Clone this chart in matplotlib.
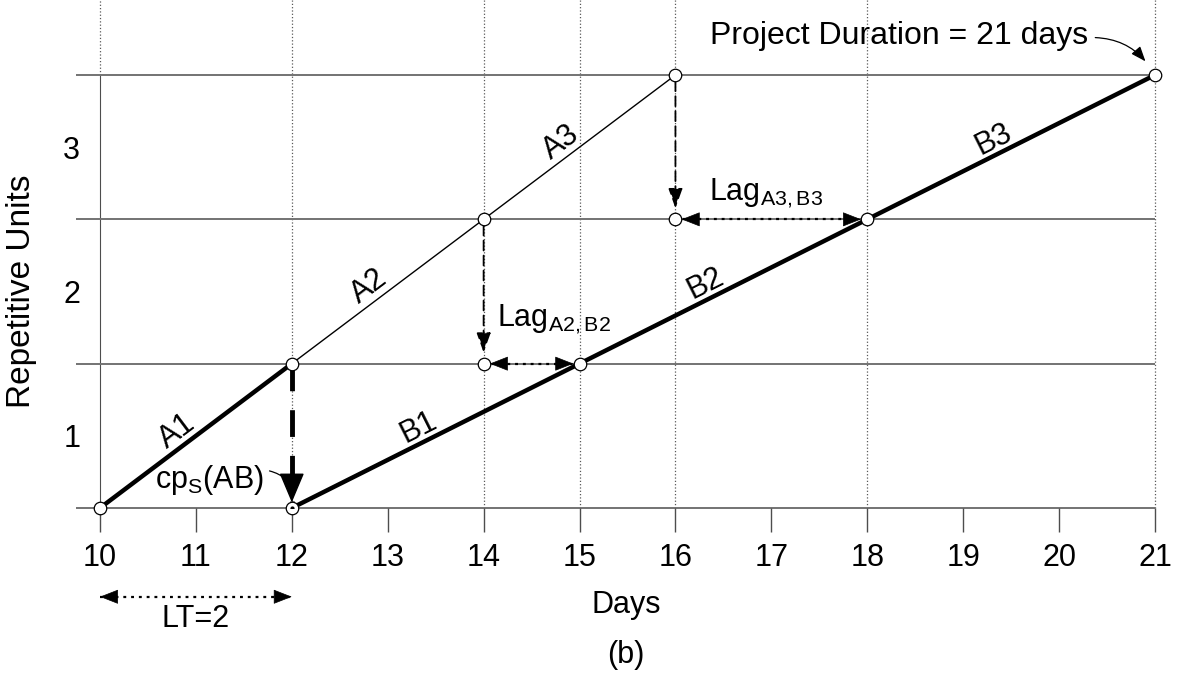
import numpy as np
import matplotlib
matplotlib.use('Agg')
import matplotlib.pyplot as plt

plt.rcParams['font.family'] = ['Liberation Sans', 'DejaVu Sans']
plt.rcParams['mathtext.fontset'] = 'custom'
plt.rcParams['mathtext.rm'] = 'Liberation Sans'
plt.rcParams['mathtext.it'] = 'Liberation Sans:italic'

days = np.arange(10, 22)
unit_levels = [0, 1, 2, 3]
unit_labels = ['1', '2', '3']

# activity A: one unit every 2 days
a_days = [10, 12, 14, 16]
a_units = [0, 1, 2, 3]
a_labels = ['A1', 'A2', 'A3']

# activity B: one unit every 3 days
b_days = [12, 15, 18, 21]
b_units = [0, 1, 2, 3]
b_labels = ['B1', 'B2', 'B3']

# lags between A finishing unit i+1 and B finishing unit i
lag_days = [14, 16]
lag_units = [1, 2]
lag_end_days = [15, 18]
lag_names = ['A2,B2', 'A3,B3']

lead_time = 2
project_duration = 21

fig = plt.figure(figsize=(11.79, 6.77), dpi=100)
ax = fig.add_axes([76 / 1179, 169 / 677, 1079 / 1179, 433 / 677])
ax.set_xlim(9.75, 21)
ax.set_ylim(0, 3)
for s in ax.spines.values():
    s.set_visible(False)

# grid: dotted lines only on milestone days, running up past the top unit line
top = 3.52
event_days = sorted(set(a_days + b_days + lag_days))
ax.vlines(event_days[1:], 0, top, colors='0.35', linestyles=':', lw=0.9, clip_on=False, zorder=1)
ax.vlines(event_days[0], 3, top, colors='0.35', linestyles=':', lw=0.9, clip_on=False, zorder=1)
ax.vlines(event_days[0], 0, 3, colors='0.3', lw=0.8, zorder=1)
ax.hlines(unit_levels, 9.75, 21, colors='0.45', lw=1.4, clip_on=False, zorder=1)

ax.set_xticks(days)
ax.tick_params(axis='x', length=17, width=1.0, color='0.3', pad=8, labelsize=22)
ax.set_yticks([u + 0.5 for u in unit_levels[:-1]], unit_labels)
ax.tick_params(axis='y', length=0, pad=-3, labelsize=22)

# activity lines
ax.plot(a_days[:2], a_units[:2], color='k', lw=3.2, solid_capstyle='butt', zorder=3)
ax.plot(a_days[1:], a_units[1:], color='k', lw=1.0, zorder=3)
ax.plot(b_days, b_units, color='k', lw=3.2, solid_capstyle='butt', zorder=3)

circ = dict(marker='o', ms=9, mfc='white', mec='k', mew=0.9, ls='none', zorder=6, clip_on=False)
ax.plot(a_days, a_units, **circ)
ax.plot(b_days, b_units, **circ)
ax.plot(lag_days, lag_units, **circ)
ax.plot(b_days[0], b_units[0], marker='.', ms=4, color='k', ls='none', zorder=7)


def label_segment(x0, y0, x1, y1, text):
    p0, p1 = ax.transData.transform([(x0, y0), (x1, y1)])
    d = p1 - p0
    ang = np.degrees(np.arctan2(d[1], d[0]))
    u = d / np.hypot(*d)
    n = np.array([-u[1], u[0]])
    off = (-12 * u + 15 * n) * 72 / fig.dpi
    ax.annotate(text, xy=((x0 + x1) / 2, (y0 + y1) / 2), xytext=off, textcoords='offset points',
                rotation=ang, rotation_mode='anchor', ha='center', va='center', fontsize=22)


def head(xy, sign, coords='data', shrink=4.5, length=12, half_width=4.7):
    # solid arrow head whose tip sits at xy (less shrink), pointing along +x (sign=1) or -x
    ax.annotate('', xy=xy, xycoords=coords, xytext=(-sign * (shrink + length), 0),
                textcoords='offset points', annotation_clip=False, zorder=5,
                arrowprops=dict(arrowstyle=f'-|>,head_length={length / 10},head_width={half_width / 10}',
                                mutation_scale=10, lw=0.5, color='k', shrinkA=0, shrinkB=shrink))


def dotted_span(x0, x1, y, transform, shrink):
    ax.plot([x0, x1], [y, y], transform=transform, color='k', lw=1.6,
            ls=(0, (1.3, 2.2)), clip_on=False, zorder=4)
    coords = 'data' if transform is ax.transData else ('data', 'axes fraction')
    head((x0, y), -1, coords, shrink)
    head((x1, y), 1, coords, shrink)


for i, name in enumerate(a_labels):
    label_segment(a_days[i], a_units[i], a_days[i + 1], a_units[i + 1], name)
for i, name in enumerate(b_labels):
    label_segment(b_days[i], b_units[i], b_days[i + 1], b_units[i + 1], name)

# critical point: A1 finish drops down to B1 start
ax.plot([a_days[1], a_days[1]], [a_units[1], b_units[0]], color='k', lw=3.5,
        dashes=(5.5, 3.9), dash_capstyle='butt', zorder=4)
ax.annotate('', xy=(b_days[0], b_units[0]), xytext=(0, 20), textcoords='offset points',
            arrowprops=dict(arrowstyle='-|>,head_length=1.9,head_width=0.8', mutation_scale=10,
                            lw=1, color='k', shrinkA=0, shrinkB=4), zorder=5)
ax.annotate(r'cp$_{\mathrm{S}}$(AB)', xy=(b_days[0], b_units[0]), xytext=(-20, 14.4),
            textcoords='offset points', ha='right', va='baseline', fontsize=22,
            arrowprops=dict(arrowstyle='-|>,head_length=0.9,head_width=0.35', mutation_scale=10,
                            lw=0.9, color='k', relpos=(1.0, 0.8), shrinkA=2, shrinkB=9,
                            connectionstyle='arc3,rad=-0.5'))

# drop lines and lags
dash_head = dict(arrowstyle='-|>,head_length=1.2,head_width=0.43', mutation_scale=10,
                 lw=1.3, ls=(0, (5.5, 2.8)), color='k', shrinkA=4.5, shrinkB=8)
lag_offsets = [(9.4, 26.6), (24.5, 13.3)]
for i in range(len(lag_days)):
    x, u = lag_days[i], lag_units[i]
    ax.annotate('', xy=(x, u), xytext=(x, u + 1), arrowprops=dash_head, zorder=4)
    dotted_span(x, lag_end_days[i], u, ax.transData, 4.5)
    ax.annotate(r'Lag$_{\mathrm{%s}}$' % lag_names[i], xy=(x, u), xytext=lag_offsets[i],
                textcoords='offset points', ha='left', va='baseline', fontsize=22)

# lead time below the axis
dotted_span(a_days[0], a_days[0] + lead_time, -0.205, ax.get_xaxis_transform(), 0)
ax.annotate(f'LT={lead_time}', xy=(a_days[0] + lead_time / 2, -0.256),
            xycoords=('data', 'axes fraction'), ha='center', va='center', fontsize=22,
            annotation_clip=False)

ax.annotate(f'Project Duration = {project_duration} days', xy=(b_days[-1], b_units[-1]),
            xytext=(-48, 22.3), textcoords='offset points', ha='right', va='baseline', fontsize=23,
            arrowprops=dict(arrowstyle='-|>,head_length=0.9,head_width=0.35', mutation_scale=10,
                            lw=0.9, color='k', relpos=(1.0, 0.45), shrinkA=3, shrinkB=12,
                            connectionstyle='arc3,rad=-0.3'),
            annotation_clip=False)

ax.set_xlabel('Days', fontsize=22)
ax.xaxis.set_label_coords(0.51, -0.19)
ax.set_ylabel('Repetitive Units', fontsize=24)
ax.yaxis.set_label_coords(-0.036, 0.5)
fig.text(626 / 1179, 1 - 655 / 677, '(b)', ha='center', va='center', fontsize=22)

fig.savefig('out.png', dpi=100)
